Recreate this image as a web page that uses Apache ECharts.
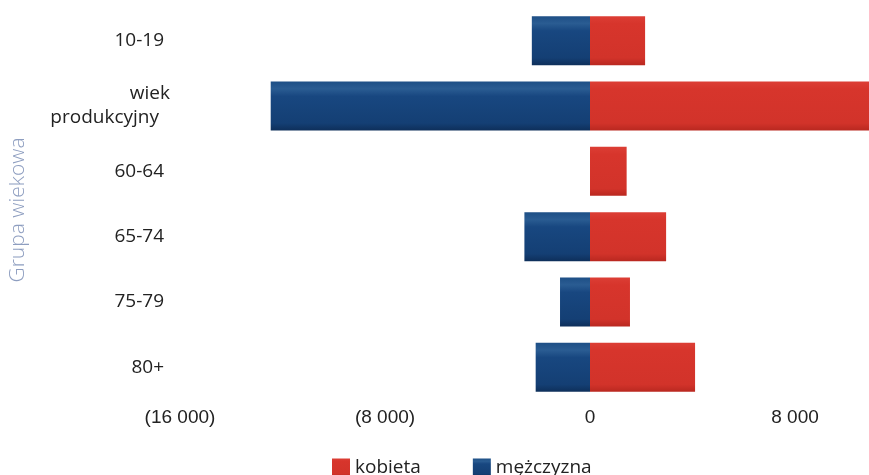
<!DOCTYPE html>
<html>
<head>
<meta charset="utf-8">
<script src="https://cdn.jsdelivr.net/npm/echarts@6/dist/echarts.min.js"></script>
<style>
html,body{margin:0;padding:0;background:#fff;}
#chart{width:869px;height:475px;}
</style>
</head>
<body>
<div id="chart"></div>
<script>
var categories = ['10-19', 'wiek produkcyjny', '60-64', '65-74', '75-79', '80+'];
var kobieta = [2150, 12700, 1430, 2970, 1560, 4100];
var mezczyzna = [-2270, -12460, 0, -2560, -1170, -2120];
var seriesNames = ['kobieta', 'mężczyzna'];
var axisTitle = 'Grupa wiekowa';

function fmtNum(v) {
  var s = String(Math.round(Math.abs(v)));
  s = s.replace(/\B(?=(\d{3})+(?!\d))/g, ' ');
  return v < 0 ? '(' + s + ')' : s;
}

var chart = echarts.init(document.getElementById('chart'), null, {renderer: 'canvas'});
var redGrad = new echarts.graphic.LinearGradient(0, 0, 0, 1, [
  {offset: 0, color: '#dc3e35'}, {offset: 0.15, color: '#d7352c'},
  {offset: 0.85, color: '#d2332a'}, {offset: 1, color: '#b92820'}]);
var blueGrad = new echarts.graphic.LinearGradient(0, 0, 0, 1, [
  {offset: 0, color: '#1e4f86'}, {offset: 0.15, color: '#2a5c92'}, {offset: 0.3, color: '#184780'},
  {offset: 0.85, color: '#143f74'}, {offset: 1, color: '#0e2f5a'}]);

chart.setOption({
  animation: false,
  backgroundColor: '#ffffff',
  textStyle: {fontFamily: 'Open Sans'},
  grid: {left: 180, right: -131, top: 8, bottom: 75, containLabel: false, outerBoundsMode: 'none'},
  legend: {
    data: seriesNames,
    left: 327, top: 453,
    icon: 'rect', itemWidth: 18, itemHeight: 18, itemGap: 52,
    textStyle: {fontFamily: 'Open Sans', fontSize: 19, color: '#222'}
  },
  xAxis: {
    type: 'value', min: -16000, max: 16000, interval: 8000,
    axisLine: {show: false}, axisTick: {show: false}, splitLine: {show: false},
    axisLabel: {
      formatter: fmtNum, fontFamily: 'Liberation Sans', fontSize: 19, color: '#222', margin: 8
    }
  },
  yAxis: {
    type: 'category', data: categories, inverse: true,
    axisLine: {show: false}, axisTick: {show: false}, splitLine: {show: false},
    name: axisTitle, nameLocation: 'middle', nameRotate: 90, nameGap: 151,
    nameTextStyle: {fontFamily: 'Open Sans', fontSize: 21, fontWeight: 300, color: '#8e9ec0', padding: [0, 0, 0, -12]},
    axisLabel: {
      margin: 16, fontFamily: 'Open Sans', fontSize: 19, color: '#222', align: 'right', lineHeight: 24,
      formatter: function (v) {
        if (v === 'wiek produkcyjny') return '{a|wiek}\n{b|produkcyjny}';
        return v;
      },
      rich: {
        a: {fontFamily: 'Open Sans', fontSize: 19, color: '#222', align: 'right', padding: [0, -6, 0, 0], lineHeight: 24},
        b: {fontFamily: 'Open Sans', fontSize: 19, color: '#222', align: 'right', padding: [0, 5, 0, 0], lineHeight: 24}
      }
    }
  },
  series: [
    {name: seriesNames[0], type: 'bar', stack: 'g', data: kobieta, barCategoryGap: '25%',
     itemStyle: {color: redGrad}},
    {name: seriesNames[1], type: 'bar', stack: 'g', data: mezczyzna, barCategoryGap: '25%',
     itemStyle: {color: blueGrad}}
  ],
  color: ['#d6352c', '#17477f']
});
</script>
</body>
</html>
